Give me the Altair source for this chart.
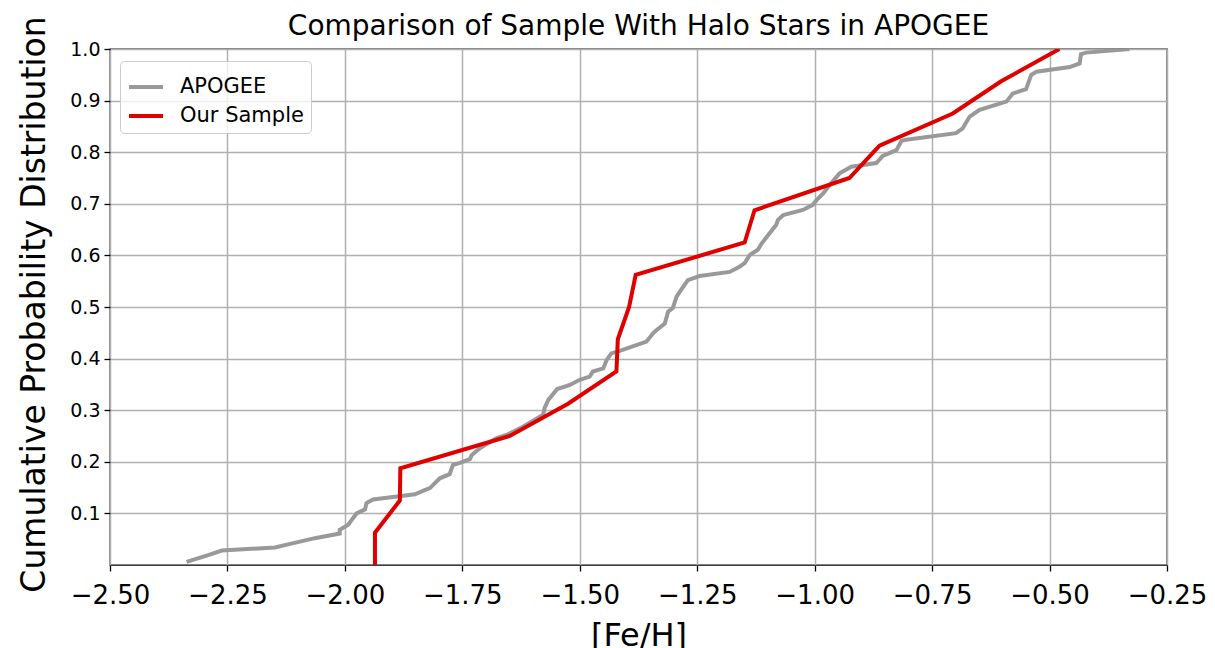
import altair as alt
import pandas as pd

# APOGEE halo stars cumulative distribution
apogee_x = [-2.337, -2.291, -2.262, -2.149, -2.121, -2.064, -2.011, -2.011, -1.993, -1.975,
            -1.957, -1.954, -1.940, -1.851, -1.830, -1.819, -1.798, -1.777, -1.770, -1.755,
            -1.734, -1.730, -1.713, -1.677, -1.656, -1.621, -1.578, -1.575, -1.567, -1.548,
            -1.521, -1.500, -1.479, -1.472, -1.450, -1.443, -1.433, -1.415, -1.358, -1.344,
            -1.337, -1.319, -1.312, -1.302, -1.294, -1.280, -1.270, -1.245, -1.181, -1.160,
            -1.149, -1.138, -1.121, -1.113, -1.096, -1.082, -1.078, -1.067, -1.025, -1.004,
            -0.996, -0.982, -0.965, -0.947, -0.922, -0.869, -0.855, -0.826, -0.815, -0.805,
            -0.699, -0.685, -0.670, -0.649, -0.592, -0.578, -0.550, -0.539, -0.528, -0.457,
            -0.436, -0.433, -0.422, -0.330]
apogee_y = [0.006, 0.019, 0.028, 0.034, 0.040, 0.052, 0.061, 0.068, 0.078, 0.100,
            0.108, 0.120, 0.127, 0.137, 0.145, 0.149, 0.168, 0.176, 0.194, 0.198,
            0.205, 0.213, 0.226, 0.246, 0.252, 0.268, 0.291, 0.304, 0.320, 0.341,
            0.349, 0.359, 0.365, 0.375, 0.381, 0.397, 0.410, 0.415, 0.433, 0.449,
            0.455, 0.468, 0.491, 0.498, 0.520, 0.539, 0.552, 0.560, 0.568, 0.578,
            0.585, 0.601, 0.611, 0.623, 0.643, 0.659, 0.669, 0.678, 0.688, 0.698,
            0.707, 0.720, 0.740, 0.759, 0.772, 0.779, 0.793, 0.804, 0.822, 0.824,
            0.837, 0.846, 0.869, 0.882, 0.898, 0.914, 0.922, 0.950, 0.956, 0.965,
            0.972, 0.990, 0.993, 1.000]

# Our sample cumulative distribution
sample_x = [-1.936, -1.936, -1.883, -1.882, -1.649, -1.525, -1.422, -1.419, -1.395, -1.381,
            -1.149, -1.128, -0.926, -0.862, -0.706, -0.603, -0.479]
sample_y = [0.0, 0.0625, 0.125, 0.1875, 0.25, 0.3125, 0.375, 0.4375, 0.5, 0.5625,
            0.625, 0.6875, 0.75, 0.8125, 0.875, 0.9375, 1.0]

series_names = ["APOGEE", "Our Sample"]
series_colors = ["#999999", "#e00000"]

x_ticks = [-2.5, -2.25, -2.0, -1.75, -1.5, -1.25, -1.0, -0.75, -0.5, -0.25]
y_ticks = [0.1, 0.2, 0.3, 0.4, 0.5, 0.6, 0.7, 0.8, 0.9, 1.0]

rows = []
for i, (x, y) in enumerate(zip(apogee_x, apogee_y)):
    rows.append({"series": "APOGEE", "feh": x, "cdf": y, "order": i})
for i, (x, y) in enumerate(zip(sample_x, sample_y)):
    rows.append({"series": "Our Sample", "feh": x, "cdf": y, "order": i})
df = pd.DataFrame(rows)

FONT = "DejaVu Sans"

chart = alt.Chart(df).mark_line(strokeWidth=4, clip=True).encode(
    x=alt.X("feh:Q",
            scale=alt.Scale(domain=[-2.5, -0.25], nice=False, zero=False),
            axis=alt.Axis(values=x_ticks, format=".2f", title="[Fe/H]",
                          labelFontSize=26, labelPadding=11, labelFlush=False,
                          titleFontSize=32, titleFontWeight="normal",
                          titleBaseline="alphabetic", titleY=80, titleX=528.5,
                          titleAlign="center")),
    y=alt.Y("cdf:Q",
            scale=alt.Scale(domain=[0, 1], nice=False, zero=False),
            axis=alt.Axis(values=y_ticks, format=".1f",
                          title="Cumulative Probability Distribution",
                          labelFontSize=19, labelPadding=4, labelFlush=False,
                          titleFontSize=33, titleFontWeight="normal",
                          titleBaseline="alphabetic", titleAngle=-90,
                          titleX=-66, titleY=255, titleAlign="center")),
    color=alt.Color("series:N",
                    scale=alt.Scale(domain=series_names, range=series_colors),
                    legend=alt.Legend(title=None, orient="none", legendX=10, legendY=12,
                                      symbolType="stroke", symbolStrokeWidth=4,
                                      symbolSize=1156, labelFontSize=21,
                                      labelOffset=15, rowPadding=0, padding=7,
                                      fillColor="rgba(255,255,255,0.8)",
                                      strokeColor="#cccccc", cornerRadius=4)),
    order="order:Q",
).properties(
    width=1057, height=516,
    autosize=alt.AutoSizeParams(type="none"),
    padding={"left": 110, "top": 49, "right": 48, "bottom": 83},
    title=alt.TitleParams("Comparison of Sample With Halo Stars in APOGEE",
                          fontSize=28, font=FONT, fontWeight="normal",
                          anchor="middle", frame="group", baseline="alphabetic",
                          offset=0, dy=47, color="black"),
).configure(
    font=FONT,
    background="white",
).configure_view(
    stroke="black", strokeWidth=1.3,
).configure_axis(
    labelFont=FONT, titleFont=FONT, labelColor="black", titleColor="black",
    grid=True, gridColor="#b0b0b0", gridWidth=1.5,
    domain=False, tickColor="black", tickSize=6, tickWidth=1.3,
).configure_legend(
    labelFont=FONT, labelColor="black",
)

chart.save("out.html", embed_options={"renderer": "svg", "actions": False})
